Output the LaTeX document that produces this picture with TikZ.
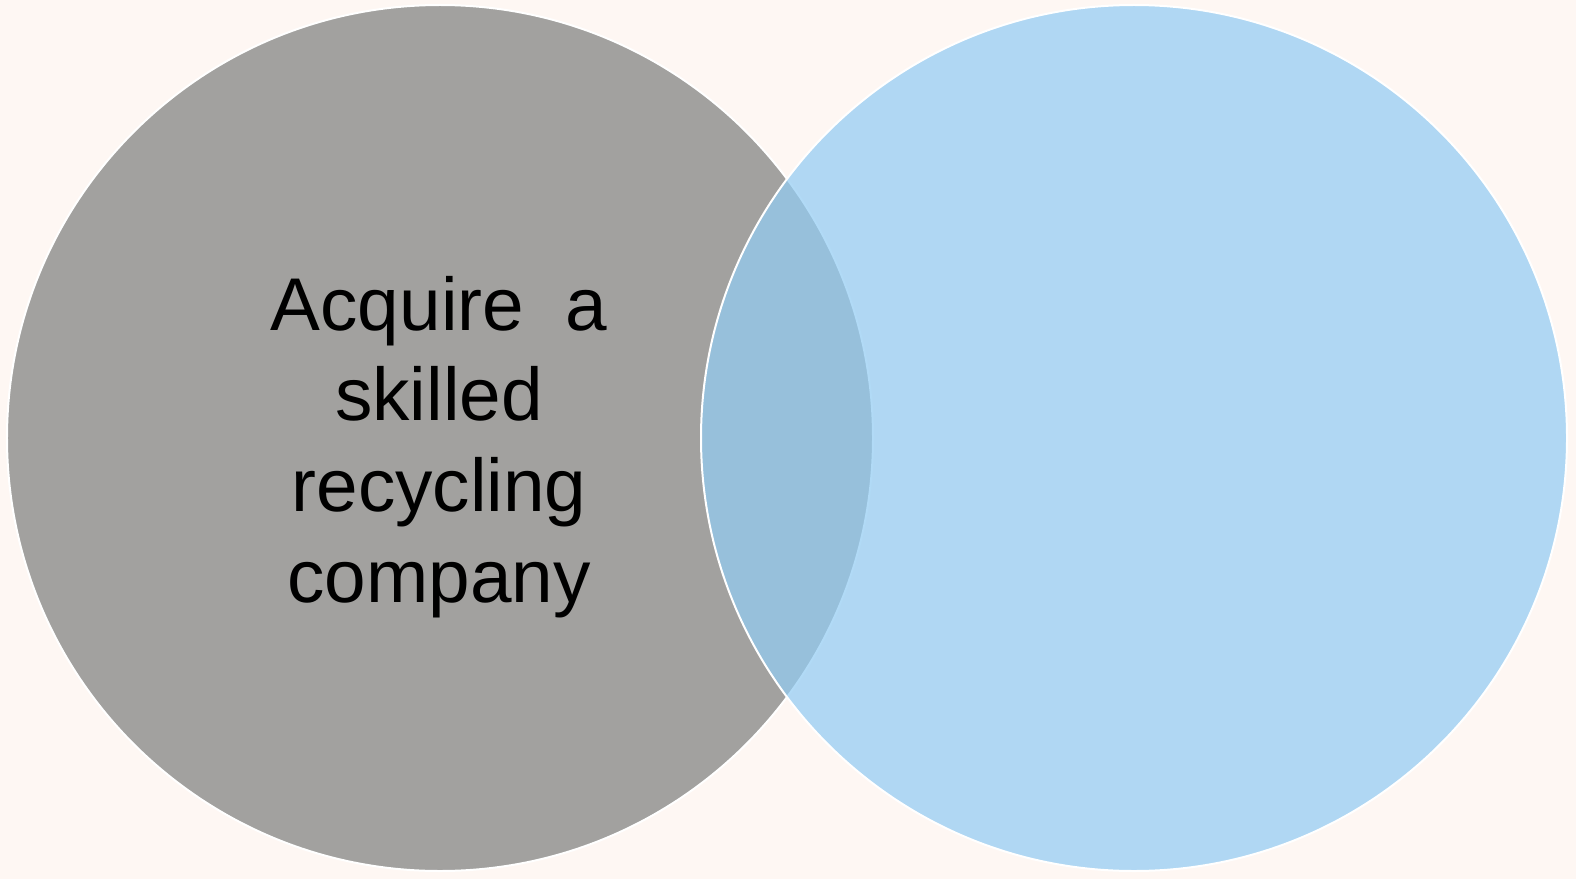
\documentclass[tikz,border=0pt]{standalone}
\usepackage{fontspec}
\setmainfont{Liberation Sans}
\definecolor{bgc}{RGB}{254,247,243}
\definecolor{grayc}{RGB}{162,161,159}
\definecolor{bluec}{RGB}{147,204,243}
\begin{document}
\begin{tikzpicture}[x=1bp,y=-1bp,
  ring/.style={draw=white,line width=2bp},
  label/.style={align=center,inner sep=0pt,font=\fontsize{75}{91}\selectfont}]
\fill[bgc] (0,0) rectangle (1576,879);
\useasboundingbox (0,0) rectangle (1576,879);
\node[circle,minimum size=866bp,inner sep=0pt,fill=grayc,ring] (left) at (440,438) {};
\node[circle,minimum size=866bp,inner sep=0pt,fill=bluec,fill opacity=0.72,ring,draw opacity=1] (right) at (1134,438) {};
\node[label] (txt) at (439,447) {Acquire\ \ a\\skilled\\recycling\\company};
\end{tikzpicture}
\end{document}
